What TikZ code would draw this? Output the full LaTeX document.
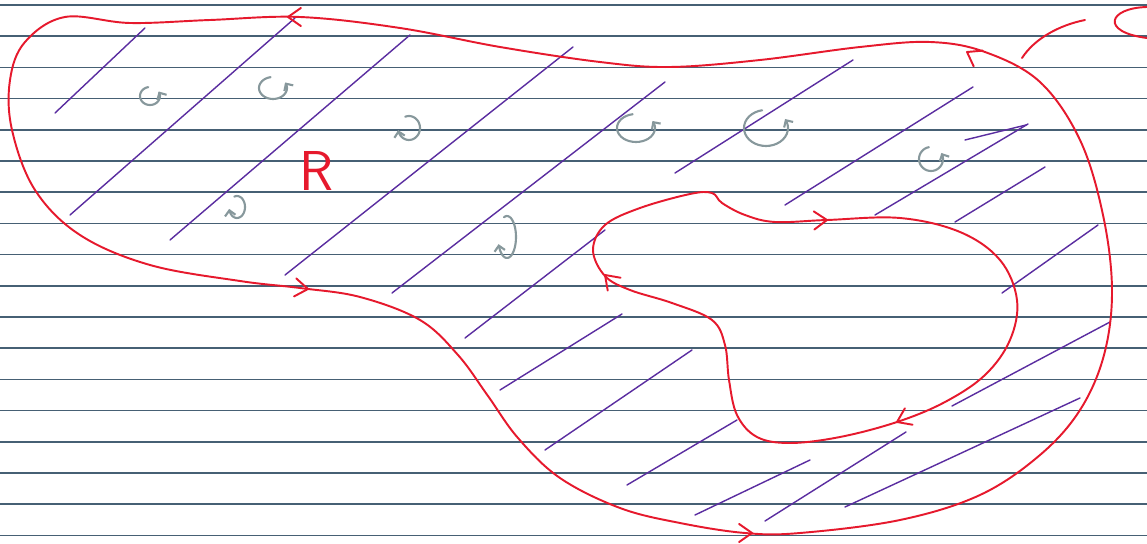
\documentclass[tikz,border=0pt]{standalone}
\usetikzlibrary{arrows.meta}

\definecolor{penred}{RGB}{230,25,45}
\definecolor{penpurple}{RGB}{90,45,160}
\definecolor{pengray}{RGB}{135,152,156}
\definecolor{rulecol}{RGB}{70,96,116}

\tikzset{
  boundary/.style={penred,line width=1.1pt,line cap=round,line join=round},
  hatch/.style={penpurple,line width=0.8pt,line cap=round},
  curl/.style={pengray,line width=1.2pt,line cap=round,-{Straight Barb[length=3pt,width=6pt]}},
  rule/.style={rulecol,line width=0.8pt}
}

% open arrow mark on a boundary curve: x, y, direction (degrees)
\newcommand{\tipmark}[3]{\draw[boundary] (#1,#2) ++(#3+145:9pt) -- (#1,#2) -- ++(#3-145:9pt);}
% small rotation sign: centre x, y, radii, start angle, turn (+1 ccw, -1 cw), sweep
\newcommand{\curlmark}[7]{\draw[curl] plot[smooth,domain=0:#7,samples=30,variable=\t]
  ({#1+#3*cos(#5+#6*\t)},{#2-#4*sin(#5+#6*\t)});}

\begin{document}
\begin{tikzpicture}[x=0.02cm,y=-0.02cm]
\useasboundingbox[fill=white] (0,0) rectangle (1147,544);

% ruled paper
\foreach \k in {0,...,17}
  \draw[rule] (0,{5+31.2*\k}) -- (1147,{5+31.2*\k});

% hatching of the region
\foreach \ax/\ay/\bx/\by in {55/113/145/28, 70/215/295/18, 170/240/410/35, 285/275/573/47,
  392/293/665/82, 465/338/605/230, 675/173/853/60, 785/205/973/87, 875/215/1028/124,
  965/140/1026/125, 955/222/1045/167, 1002/293/1098/225, 500/390/622/314, 545/450/692/350,
  627/485/737/420, 952/406/1110/322, 695/515/810/460, 765/521/906/432, 845/507/1080/398}
  \draw[hatch] (\ax,\ay) -- (\bx,\by);

% outer boundary
\draw[boundary] plot[smooth cycle,tension=0.6] coordinates {
  (65,17) (130,23) (210,20) (300,17) (400,28) (500,47) (600,62) (670,67) (760,60)
  (860,47) (930,42) (985,52) (1040,82) (1080,140) (1103,215) (1112,290) (1104,355)
  (1080,410) (1040,455) (980,495) (900,520) (800,533) (745,533) (680,523) (620,508)
  (560,478) (518,438) (488,396) (458,355) (420,320) (360,297) (300,288) (240,281)
  (150,265) (80,235) (35,190) (12,130) (10,80) (25,42)};

% inner boundary
\draw[boundary] plot[smooth cycle,tension=0.6] coordinates {
  (722,203) (745,215) (775,222) (827,220) (900,218) (960,232) (1000,260) (1017,300)
  (1010,340) (985,375) (945,402) (897,422) (840,437) (790,443) (757,437) (737,415)
  (729,380) (725,345) (712,320) (672,303) (630,290) (605,276) (593,250) (605,225)
  (640,208) (690,194) (712,193)};

% orientation marks
\tipmark{288}{17}{180}
\tipmark{967}{52}{150}
\tipmark{752}{533}{0}
\tipmark{308}{289}{-7}
\tipmark{827}{220}{2}
\tipmark{897}{422}{205}
\tipmark{605}{275}{135}

% strokes at the top right
\draw[boundary] (1022,58) .. controls (1035,38) and (1060,25) .. (1085,20);
\draw[boundary] (1147,7) .. controls (1108,8) and (1100,32) .. (1147,38);

% region label
\node[penred,font=\sffamily\fontsize{32}{32}\selectfont] (R) at (317,171) {R};

% rotation signs
\curlmark{150}{96}{10}{9}{100}{1}{290}
\curlmark{273}{88}{14}{11}{100}{1}{290}
\curlmark{636}{128}{19}{14}{100}{1}{290}
\curlmark{766}{128}{22}{18}{100}{1}{290}
\curlmark{931}{159}{12}{12}{100}{1}{290}
\curlmark{409}{128}{11}{12}{110}{-1}{280}
\curlmark{237}{207}{8}{11}{110}{-1}{280}
\curlmark{507}{237}{9}{21}{110}{-1}{270}

\end{tikzpicture}
\end{document}
